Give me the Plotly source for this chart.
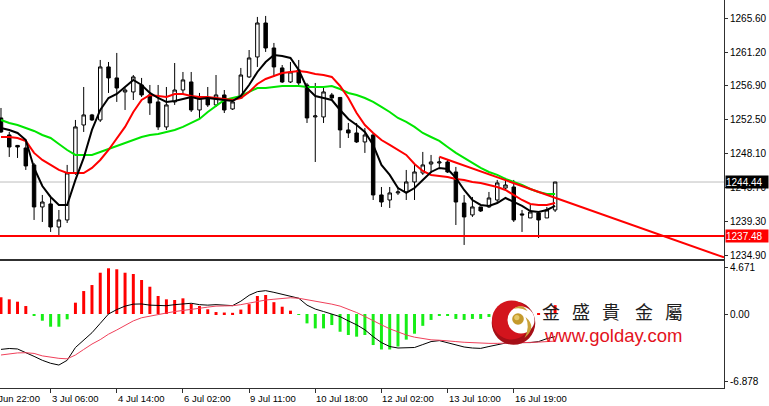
import plotly.graph_objects as go

# ---------------- data ----------------
bar_idx = list(range(68))

opens = [1252.72, 1250.52, 1249.17, 1248.84, 1246.65, 1241.22, 1241.61, 1238.63, 1239.54, 1245.61,
         1251.81, 1253.11, 1252.46, 1259.31, 1257.89, 1256.08, 1256.08, 1256.98, 1255.69, 1254.79,
         1251.56, 1254.79, 1256.33, 1257.37, 1253.75, 1255.30, 1254.40, 1255.69, 1253.88, 1255.30,
         1258.02, 1260.60, 1264.99, 1261.76, 1259.18, 1257.37, 1258.92, 1256.98, 1252.85, 1252.85,
         1255.69, 1255.37, 1251.17, 1250.78, 1249.62, 1250.52, 1242.77, 1242.12, 1243.03, 1243.16,
         1244.45, 1245.61, 1246.77, 1246.90, 1247.03, 1245.74, 1241.73, 1240.19, 1241.22, 1241.22,
         1242.12, 1243.67, 1243.80, 1240.32, 1239.80, 1240.44, 1239.80, 1240.83]
highs = [1254.01, 1250.91, 1249.23, 1249.62, 1246.90, 1242.77, 1242.51, 1240.83, 1246.65, 1252.46,
         1256.72, 1253.24, 1260.21, 1259.95, 1261.12, 1256.59, 1258.27, 1257.89, 1256.98, 1256.98,
         1256.72, 1259.82, 1258.66, 1258.66, 1255.95, 1256.72, 1258.27, 1256.33, 1255.04, 1259.18,
         1261.50, 1265.77, 1265.90, 1262.41, 1259.56, 1259.95, 1260.21, 1257.24, 1257.24, 1256.72,
         1255.95, 1255.43, 1252.07, 1252.07, 1251.43, 1250.78, 1243.80, 1243.80, 1243.80, 1246.00,
         1246.90, 1248.33, 1247.94, 1247.68, 1247.29, 1246.39, 1242.77, 1242.51, 1241.22, 1243.16,
         1244.71, 1244.97, 1244.71, 1240.83, 1241.48, 1240.57, 1241.22, 1244.45]
lows = [1250.78, 1247.68, 1247.55, 1246.00, 1239.54, 1239.28, 1237.99, 1237.34, 1239.15, 1245.36,
        1250.91, 1252.33, 1252.20, 1255.95, 1254.79, 1253.75, 1255.04, 1255.43, 1253.11, 1251.17,
        1251.17, 1254.40, 1255.69, 1253.49, 1252.72, 1254.14, 1254.14, 1253.36, 1253.75, 1255.30,
        1257.89, 1259.31, 1261.25, 1258.02, 1257.24, 1257.24, 1256.72, 1252.07, 1247.03, 1252.07,
        1255.04, 1248.84, 1250.13, 1249.49, 1248.20, 1242.12, 1241.22, 1241.09, 1242.77, 1242.12,
        1242.12, 1245.36, 1245.61, 1246.39, 1245.61, 1238.89, 1236.31, 1239.93, 1240.57, 1241.09,
        1241.86, 1243.41, 1239.28, 1237.99, 1239.80, 1237.21, 1239.80, 1240.57]
closes = [1250.91, 1248.97, 1248.97, 1246.52, 1241.22, 1241.86, 1238.63, 1239.54, 1245.61, 1251.56,
          1253.11, 1252.46, 1259.31, 1257.89, 1256.59, 1256.33, 1258.02, 1255.69, 1254.66, 1251.56,
          1254.40, 1256.33, 1257.63, 1253.75, 1255.30, 1254.40, 1255.69, 1253.75, 1254.79, 1258.27,
          1260.47, 1264.99, 1261.76, 1259.31, 1257.37, 1258.66, 1257.24, 1252.72, 1252.98, 1256.08,
          1255.30, 1251.17, 1250.78, 1249.62, 1250.52, 1242.77, 1241.86, 1243.03, 1243.16, 1244.45,
          1245.74, 1246.65, 1247.03, 1247.03, 1245.74, 1241.86, 1239.93, 1241.22, 1240.70, 1242.38,
          1244.32, 1244.06, 1239.54, 1240.19, 1240.57, 1239.54, 1240.83, 1244.44]

ma_fast = [1251.43, 1251.17, 1250.78, 1249.87, 1246.26, 1243.93, 1242.51, 1241.48, 1241.48, 1244.71,
           1247.55, 1251.17, 1253.75, 1255.30, 1255.82, 1256.72, 1257.63, 1256.98, 1255.95, 1255.30,
           1254.79, 1254.91, 1255.17, 1255.43, 1255.17, 1255.30, 1255.17, 1255.04, 1254.91, 1255.56,
           1256.98, 1258.66, 1259.95, 1260.86, 1260.73, 1260.47, 1258.92, 1256.59, 1255.56, 1255.30,
           1255.04, 1253.75, 1252.59, 1251.81, 1250.91, 1249.23, 1246.65, 1245.36, 1243.67, 1243.03,
           1243.67, 1244.71, 1245.74, 1246.26, 1246.13, 1244.97, 1243.41, 1242.12, 1241.48, 1241.35,
           1241.73, 1242.38, 1241.86, 1241.35, 1240.70, 1240.57, 1240.83, 1241.35]
ma_mid = [1250.26, 1250.26, 1250.13, 1249.75, 1248.20, 1247.29, 1246.65, 1246.00, 1245.61, 1245.61,
          1245.61, 1246.26, 1247.29, 1248.58, 1250.13, 1251.56, 1253.49, 1255.04, 1255.69, 1255.56,
          1255.43, 1255.82, 1255.82, 1255.56, 1255.43, 1255.43, 1255.30, 1255.17, 1255.04, 1255.30,
          1256.08, 1257.11, 1257.76, 1258.14, 1258.53, 1258.66, 1258.79, 1258.66, 1258.40, 1258.27,
          1258.02, 1256.85, 1255.30, 1253.36, 1251.81, 1250.78, 1249.87, 1249.23, 1248.58, 1247.94,
          1246.77, 1245.87, 1245.36, 1245.23, 1245.10, 1244.84, 1244.71, 1244.45, 1244.32, 1244.06,
          1243.80, 1243.41, 1242.77, 1242.12, 1241.61, 1241.48, 1241.48, 1241.73]
ma_slow = [1252.46, 1252.07, 1251.81, 1251.43, 1251.04, 1250.52, 1250.13, 1249.36, 1248.58, 1247.94,
           1247.94, 1247.94, 1248.32, 1248.71, 1249.10, 1249.49, 1249.87, 1250.26, 1250.52, 1250.65,
           1250.91, 1251.17, 1251.56, 1252.07, 1252.59, 1253.49, 1254.27, 1255.04, 1255.30, 1255.56,
           1256.08, 1256.59, 1256.59, 1256.72, 1256.85, 1256.85, 1256.85, 1256.72, 1256.72, 1256.72,
           1256.85, 1256.46, 1255.95, 1255.69, 1255.30, 1254.79, 1254.14, 1253.49, 1252.72, 1252.20,
           1251.56, 1250.78, 1250.26, 1249.75, 1248.97, 1248.20, 1247.55, 1246.90, 1246.26, 1245.74,
           1245.36, 1244.84, 1244.45, 1244.06, 1243.54, 1243.16, 1242.90, 1242.90]

macd_hist = [1.70, 1.49, 1.25, 0.81, -0.15, -0.68, -1.29, -1.29, -0.54, 1.15,
             2.33, 2.94, 4.19, 4.64, 4.54, 4.19, 4.06, 3.45, 2.77, 1.83,
             1.49, 1.42, 1.59, 1.02, 0.81, 0.48, 0.20, 0.15, 0.12, 0.45,
             1.00, 1.83, 1.93, 1.20, 0.74, 0.34, -0.10, -0.95, -1.46, -1.46,
             -1.12, -1.80, -2.13, -2.30, -2.13, -3.15, -3.60, -3.60, -3.30, -2.60,
             -2.00, -1.20, -0.60, -0.12, -0.12, -0.50, -0.60, -0.50, -0.50, -0.30,
             -0.10, -0.05, 0.10, 0.10, 0.10, 0.10, 0.10, 0.90]
macd_main = [-3.59, -3.50, -3.55, -3.90, -4.30, -4.70, -5.00, -5.18, -4.70, -3.40,
             -2.60, -1.90, -0.95, 0.00, 0.45, 0.80, 1.00, 1.02, 0.90, 0.85,
             0.84, 0.95, 1.00, 1.09, 0.95, 0.90, 0.95, 0.90, 0.85, 1.30,
             1.90, 2.27, 2.37, 2.20, 2.00, 1.85, 1.60, 0.90, 0.50, 0.25,
             0.00, -0.27, -0.70, -1.10, -1.60, -2.30, -2.90, -3.30, -3.45, -3.45,
             -3.40, -3.10, -2.80, -2.70, -2.90, -3.15, -3.35, -3.45, -3.49, -3.30,
             -3.15, -2.95, -2.90, -2.90, -2.90, -2.80, -2.50, -2.30]
macd_signal = [-4.16, -4.05, -3.95, -3.93, -4.00, -4.25, -4.40, -4.50, -4.55, -4.16,
               -3.60, -3.05, -2.60, -2.05, -1.62, -1.15, -0.70, -0.38, -0.20, -0.05,
               0.10, 0.25, 0.34, 0.45, 0.58, 0.70, 0.80, 0.82, 0.84, 0.95,
               1.10, 1.30, 1.42, 1.50, 1.60, 1.65, 1.60, 1.45, 1.30, 1.20,
               1.00, 0.80, 0.50, 0.15, -0.25, -0.70, -1.10, -1.50, -1.85, -2.13,
               -2.35, -2.50, -2.62, -2.66, -2.70, -2.80, -2.87, -2.92, -2.96, -2.98,
               -2.98, -2.97, -2.95, -2.92, -2.88, -2.85, -2.80, -2.75]

trend_x = [53, 87.42]
trend_y = [1247.70, 1234.70]
support_level = 1237.48
last_price = 1244.44

price_ticks = [1265.60, 1261.20, 1256.90, 1252.50, 1248.10, 1243.70, 1239.30, 1234.90]
macd_ticks = [4.671, 0.0, -6.878]
macd_tick_text = ["4.671", "0.00", "-6.878"]
time_tick_bars = [-2, 6, 14, 22, 30, 38, 46, 54, 62]
time_tick_labels = ["29 Jun 22:00", "3 Jul 06:00", "4 Jul 14:00", "6 Jul 02:00", "9 Jul 11:00",
                    "10 Jul 18:00", "12 Jul 02:00", "13 Jul 10:00", "16 Jul 19:00"]
brand_chars = ["金", "盛", "貴", "金", "屬"]
brand_url = "www.golday.com"

# ---------------- layout geometry ----------------
W, H = 769, 406
ML, MR, MT, MB = 0, 45, 0, 18
PW, PH = W - ML - MR, H - MT - MB
X_RANGE = [-0.12, 87.42]
Y_RANGE = [1234.56, 1267.96]
M_RANGE = [-7.51, 5.38]


def px(x):
    return x / PW


def py(y):
    return (PH - y) / PH


def bar_to_paper(b):
    return (b - X_RANGE[0]) / (X_RANGE[1] - X_RANGE[0])


fig = go.Figure()

fig.add_trace(go.Candlestick(
    x=bar_idx, open=opens, high=highs, low=lows, close=closes,
    increasing=dict(line=dict(color="black", width=1), fillcolor="white"),
    decreasing=dict(line=dict(color="black", width=1), fillcolor="black"),
    whiskerwidth=0, xaxis="x", yaxis="y", hoverinfo="skip", showlegend=False))

for vals, col in [(ma_slow, "#00E600"), (ma_mid, "#FF0000"), (ma_fast, "#000000")]:
    fig.add_trace(go.Scatter(x=bar_idx, y=vals, mode="lines", line=dict(color=col, width=2),
                             xaxis="x", yaxis="y", hoverinfo="skip", showlegend=False))

fig.add_trace(go.Scatter(x=trend_x, y=trend_y, mode="lines", line=dict(color="#FF0000", width=2),
                         xaxis="x", yaxis="y", hoverinfo="skip", showlegend=False))

hist_colors = ["#FF0000" if v >= 0 else "#16EE16" for v in macd_hist]
fig.add_trace(go.Bar(x=bar_idx, y=macd_hist, marker=dict(color=hist_colors, line=dict(width=0)),
                     width=0.36, xaxis="x2", yaxis="y2", hoverinfo="skip", showlegend=False))
fig.add_trace(go.Scatter(x=bar_idx, y=macd_main, mode="lines", line=dict(color="#000000", width=1),
                         xaxis="x2", yaxis="y2", hoverinfo="skip", showlegend=False))
fig.add_trace(go.Scatter(x=bar_idx, y=macd_signal, mode="lines", line=dict(color="#F0405A", width=1),
                         xaxis="x2", yaxis="y2", hoverinfo="skip", showlegend=False))

shapes = [
    dict(type="line", xref="paper", x0=0, x1=1, yref="y", y0=last_price, y1=last_price,
         line=dict(color="#BDBDBD", width=1), layer="below"),
    dict(type="line", xref="paper", x0=0, x1=1, yref="y", y0=support_level, y1=support_level,
         line=dict(color="#FF0000", width=2), layer="above"),
]


def circ(cx, cy, r, color):
    return dict(type="circle", xref="paper", yref="paper", xsizemode="pixel", ysizemode="pixel",
                xanchor=px(cx), yanchor=py(cy), x0=-r, x1=r, y0=-r, y1=r,
                fillcolor=color, line=dict(width=0), layer="above")


shapes += [
    circ(513.5, 323, 21.8, "#A50F17"),
    circ(511.5, 320, 19.5, "#D3141D"),
    circ(521, 320, 13.5, "white"),
    dict(type="path", xref="paper", yref="paper", xsizemode="pixel", ysizemode="pixel",
         xanchor=px(513.5), yanchor=py(323),
         path="M 12,6 Q 24,-4 11,-15 Q 17,-4 12,6 Z", fillcolor="#C9A23A",
         line=dict(width=0), layer="above"),
    dict(type="path", xref="paper", yref="paper", xsizemode="pixel", ysizemode="pixel",
         xanchor=px(513.5), yanchor=py(323),
         path="M 0,14 Q 8,21 14,12 Q 7,16 0,14 Z", fillcolor="#C9A23A",
         line=dict(width=0), layer="above"),
    circ(518, 319, 5.8, "#C49A2C"),
    circ(516.8, 317.6, 2.6, "#E6C867"),
]

annotations = []
for b, lab in zip(time_tick_bars, time_tick_labels):
    annotations.append(dict(x=bar_to_paper(b), xref="paper", y=0, yref="paper",
                            xanchor="left", yanchor="top", yshift=-3, xshift=-1,
                            text=lab, showarrow=False,
                            font=dict(size=9.5, color="black", family="Liberation Sans")))

annotations.append(dict(x=1, xref="paper", y=last_price, yref="y", xanchor="left", xshift=1,
                        text=f"{last_price:.2f}", showarrow=False, bgcolor="black",
                        font=dict(size=10, color="white", family="Liberation Sans"),
                        borderpad=0, width=42, height=12, align="left"))
annotations.append(dict(x=1, xref="paper", y=support_level, yref="y", xanchor="left", xshift=1,
                        text=f"{support_level:.2f}", showarrow=False, bgcolor="#FF0000",
                        font=dict(size=10, color="white", family="Liberation Sans"),
                        borderpad=0, width=42, height=12, align="left"))

brand_x = [551, 581, 611, 643.5, 674]
for cx, ch in zip(brand_x, brand_chars):
    annotations.append(dict(x=px(cx), y=py(311), xref="paper", yref="paper", text=ch,
                            showarrow=False, xanchor="center", yanchor="middle",
                            font=dict(size=18, color="#1E1E1E", family="Noto Sans CJK TC")))
annotations.append(dict(x=px(612.5), y=py(335), xref="paper", yref="paper", text=brand_url,
                        showarrow=False, xanchor="center", yanchor="middle",
                        font=dict(size=18.5, color="#E3121C", family="Liberation Sans")))

axis_font = dict(size=10, color="black", family="Liberation Sans")
fig.update_layout(
    width=W, height=H,
    margin=dict(l=ML, r=MR, t=MT, b=MB),
    paper_bgcolor="white", plot_bgcolor="white",
    showlegend=False, hovermode=False,
    boxgap=0.4, barmode="overlay",
    font=dict(family="Liberation Sans", size=10, color="black"),
    xaxis=dict(domain=[0, 1], range=X_RANGE, anchor="y", showgrid=False, zeroline=False,
               showticklabels=False, ticks="", showline=True, linecolor="#303030", linewidth=1,
               rangeslider=dict(visible=False), fixedrange=True),
    xaxis2=dict(domain=[0, 1], range=X_RANGE, anchor="y2", matches="x", showgrid=False,
                zeroline=False, showticklabels=False, ticks="outside", ticklen=4,
                tickcolor="#303030", tickvals=time_tick_bars, showline=True, mirror=True,
                linecolor="#303030", linewidth=1, fixedrange=True),
    yaxis=dict(domain=[1 - 258.5 / PH, 1], range=Y_RANGE, anchor="x", side="right",
               tickvals=price_ticks, ticktext=[f"{v:.2f}" for v in price_ticks],
               ticks="outside", ticklen=3, tickcolor="#303030", showline=True,
               linecolor="#303030", linewidth=1, showgrid=False, zeroline=False,
               tickfont=axis_font, fixedrange=True),
    yaxis2=dict(domain=[0, (PH - 261) / PH], range=M_RANGE, anchor="x2", side="right",
                tickvals=macd_ticks, ticktext=macd_tick_text, ticks="outside", ticklen=3,
                tickcolor="#303030", showline=True, linecolor="#303030", linewidth=1,
                showgrid=False, zeroline=False, tickfont=axis_font, fixedrange=True),
    shapes=shapes,
    annotations=annotations,
)

fig.write_html("out.html", config={"displayModeBar": False},
               post_script="document.body.style.margin='0';document.body.style.overflow='hidden';")
